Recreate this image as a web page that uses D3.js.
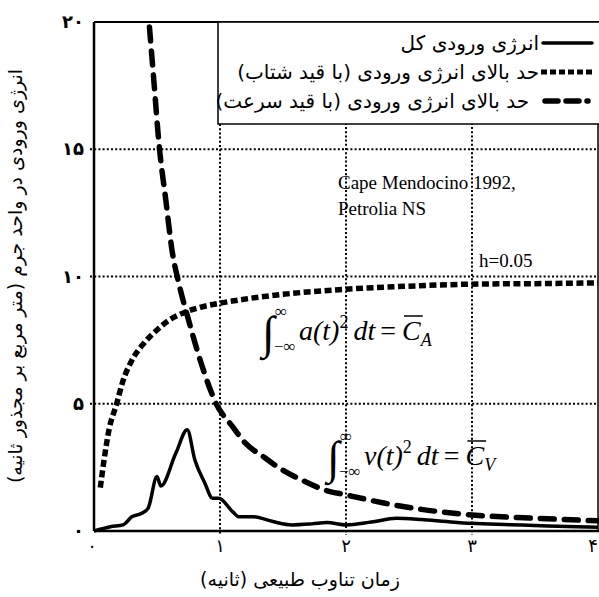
<!DOCTYPE html>
<html><head><meta charset="utf-8">
<script src="https://cdn.jsdelivr.net/npm/d3@7/dist/d3.min.js"></script>
<style>body{margin:0;background:#fff}svg{display:block}</style>
</head><body>
<svg id="c" width="599" height="597"></svg>
<script>
// ---- data ----
const xTicks = [0, 1, 2, 3, 4];
const xTickLabels = ["۰", "۱", "۲", "۳", "۴"];
const yTicks = [0, 5, 10, 15, 20];
const yTickLabels = ["۰", "۵", "۱۰", "۱۵", "۲۰"];

const totalT = [0, 0.13, 0.23, 0.3, 0.38, 0.43, 0.5, 0.53, 0.65, 0.74, 0.8, 0.88, 0.94, 0.99, 1.1, 1.15, 1.26, 1.42, 1.57, 1.73, 1.85, 2.0, 2.2, 2.4, 2.6, 2.8, 3.0, 3.3, 3.6, 4.0];
const totalE = [0, 0.17, 0.24, 0.56, 0.7, 0.9, 2.14, 1.77, 3.06, 3.98, 2.8, 1.88, 1.29, 1.29, 0.76, 0.56, 0.56, 0.37, 0.24, 0.28, 0.33, 0.24, 0.35, 0.5, 0.45, 0.37, 0.3, 0.25, 0.2, 0.15];

const accT = [0.05, 0.08, 0.12, 0.18, 0.23, 0.3, 0.4, 0.5, 0.6, 0.7, 0.85, 1.0, 1.25, 1.5, 2.0, 2.5, 3.0, 3.5, 4.0];
const accE = [1.7, 2.8, 4.0, 5.0, 5.9, 6.7, 7.4, 7.9, 8.3, 8.55, 8.8, 8.95, 9.15, 9.3, 9.5, 9.62, 9.7, 9.72, 9.75];

const velT = [0.44, 0.47, 0.52, 0.57, 0.62, 0.67, 0.75, 0.85, 0.97, 1.1, 1.2, 1.35, 1.47, 1.65, 1.84, 2.0, 2.3, 2.6, 3.0, 3.5, 4.0];
const velE = [19.8, 18, 15, 13, 11, 9.8, 8.3, 6.6, 5.0, 4.1, 3.46, 2.9, 2.48, 2.0, 1.6, 1.42, 1.1, 0.85, 0.63, 0.5, 0.4];

const legendLabels = ["انرژی ورودی کل", "حد بالای انرژی ورودی (با قید شتاب)", "حد بالای انرژی ورودی (با قید سرعت)"];
const xTitle = "زمان تناوب طبیعی (ثانیه)";
const yTitle = "انرژی ورودی در واحد جرم (متر مربع بر مجذور ثانیه)";

// ---- layout ----
const svg = d3.select("#c");
const L = 94, R = 598, T = 22, B = 531;
const x = d3.scaleLinear().domain([0, 4]).range([L, R]);
const y = d3.scaleLinear().domain([0, 20]).range([B, T]);
const fa = "'DejaVu Sans', 'Noto Sans', sans-serif";
const serif = "'Liberation Serif', 'DejaVu Serif', serif";

// grid
const gridG = svg.append("g");
[5, 10, 15].forEach(v => {
  gridG.append("line").attr("x1", L - 4).attr("x2", R).attr("y1", y(v)).attr("y2", y(v))
    .attr("stroke", "#000").attr("stroke-width", 2).attr("stroke-dasharray", "2,2.2");
});
[1, 2, 3].forEach(v => {
  const top = v === 1 ? 124 : T;
  gridG.append("line").attr("x1", x(v)).attr("x2", x(v)).attr("y1", top).attr("y2", B + 4)
    .attr("stroke", "#000").attr("stroke-width", 2).attr("stroke-dasharray", "2,2.2");
});

// axes frame
svg.append("line").attr("x1", L).attr("x2", L).attr("y1", T).attr("y2", B).attr("stroke", "#000").attr("stroke-width", 2.5);
svg.append("line").attr("x1", L).attr("x2", R + 2).attr("y1", B).attr("y2", B).attr("stroke", "#000").attr("stroke-width", 2.5);
svg.append("line").attr("x1", L).attr("x2", R + 2).attr("y1", T).attr("y2", T).attr("stroke", "#000").attr("stroke-width", 2);
svg.append("line").attr("x1", R).attr("x2", R).attr("y1", T).attr("y2", B).attr("stroke", "#000").attr("stroke-width", 1.5);

// tick labels
svg.append("g").selectAll("text").data(xTicks).join("text")
  .attr("x", d => x(d) - (d === 0 ? 2 : 0) - (d === 4 ? 5 : 0)).attr("y", 552)
  .attr("text-anchor", "middle").attr("font-family", fa).attr("font-size", 18)
  .text((d, i) => xTickLabels[i]);
svg.append("g").selectAll("text").data(yTicks).join("text")
  .attr("x", 84).attr("y", d => y(d) + 6)
  .attr("text-anchor", "end").attr("font-family", fa).attr("font-size", 18).attr("font-weight", "bold")
  .text((d, i) => yTickLabels[i]);

// curves
const line = d3.line().x(d => x(d[0])).y(d => y(d[1])).curve(d3.curveMonotoneX);

svg.append("path").datum(totalT.map((t, i) => [t, totalE[i]]))
  .attr("d", line).attr("fill", "none").attr("stroke", "#000").attr("stroke-width", 3.5).attr("stroke-linejoin", "round");
svg.append("path").datum(accT.map((t, i) => [t, accE[i]]))
  .attr("d", line).attr("fill", "none").attr("stroke", "#000").attr("stroke-width", 5.5)
  .attr("stroke-dasharray", "7,3.5").attr("stroke-linecap", "butt");
svg.append("path").datum(velT.map((t, i) => [t, velE[i]]))
  .attr("d", line).attr("fill", "none").attr("stroke", "#000").attr("stroke-width", 5.5)
  .attr("stroke-dasharray", "14,10").attr("stroke-linecap", "round");

// legend
const lg = svg.append("g");
lg.append("rect").attr("x", 218).attr("y", T).attr("width", R - 218 + 4).attr("height", 102)
  .attr("fill", "#fff").attr("stroke", "#000").attr("stroke-width", 1.5);
const rowsY = [43, 72, 101];
const styles = [
  {w: 3.5, dash: null, cap: "round", x1: 543, x2: 592},
  {w: 5, dash: "6,3", cap: "butt", x1: 541, x2: 592},
  {w: 5.5, dash: "13,8", cap: "round", x1: 545, x2: 588}
];
rowsY.forEach((ry, i) => {
  const s = styles[i];
  const ln = lg.append("line").attr("x1", s.x1).attr("x2", s.x2).attr("y1", ry).attr("y2", ry)
    .attr("stroke", "#000").attr("stroke-width", s.w).attr("stroke-linecap", s.cap);
  if (s.dash) ln.attr("stroke-dasharray", s.dash);
  lg.append("text").attr("x", i === 2 ? 529 : 539).attr("y", ry + 7)
    .attr("text-anchor", "start").attr("direction", "rtl").attr("font-family", fa).attr("font-size", 20)
    .text(legendLabels[i]);
});

// titles
svg.append("text").attr("x", 300).attr("y", 586).attr("text-anchor", "middle").attr("direction", "rtl")
  .attr("font-family", fa).attr("font-size", 19).text(xTitle);
svg.append("text").attr("transform", "translate(22,276) rotate(-90)").attr("text-anchor", "middle").attr("direction", "rtl")
  .attr("font-family", fa).attr("font-size", 19).text(yTitle);

// annotations
svg.append("text").attr("x", 338).attr("y", 189).attr("font-family", serif).attr("font-size", 19).text("Cape Mendocino 1992,");
svg.append("text").attr("x", 338).attr("y", 215).attr("font-family", serif).attr("font-size", 19).text("Petrolia NS");
svg.append("text").attr("x", 479).attr("y", 267).attr("font-family", serif).attr("font-size", 19).text("h=0.05");

function formula(x0, base, v, sub) {
  const g = svg.append("g").attr("font-family", serif);
  g.append("text").attr("x", x0).attr("y", base + 8).attr("font-size", 46).text("∫");
  g.append("text").attr("x", x0 + 13).attr("y", base - 23).attr("font-size", 17).text("∞");
  g.append("text").attr("x", x0 + 12).attr("y", base + 12).attr("font-size", 17).text("−∞");
  const t = g.append("text").attr("x", x0 + 37).attr("y", base).attr("font-size", 28).attr("font-style", "italic");
  t.append("tspan").text(v + "(t)");
  t.append("tspan").attr("dy", -12).attr("font-size", 18).attr("font-style", "normal").text("2");
  t.append("tspan").attr("dy", 12).attr("dx", 5).text("dt");
  t.append("tspan").attr("dx", 5).attr("font-style", "normal").text("=");
  t.append("tspan").attr("dx", 6).text("C");
  t.append("tspan").attr("dy", 6).attr("font-size", 18).text(sub);
  const node = t.node();
  const n = node.getNumberOfChars();
  const ext = node.getExtentOfChar(n - 2);
  g.append("line").attr("x1", ext.x + 2).attr("x2", ext.x + ext.width + 2)
    .attr("y1", base - 24).attr("y2", base - 24).attr("stroke", "#000").attr("stroke-width", 1.5);
}
formula(262, 340, "a", "A");
formula(327, 465, "v", "V");
</script>
</body></html>
